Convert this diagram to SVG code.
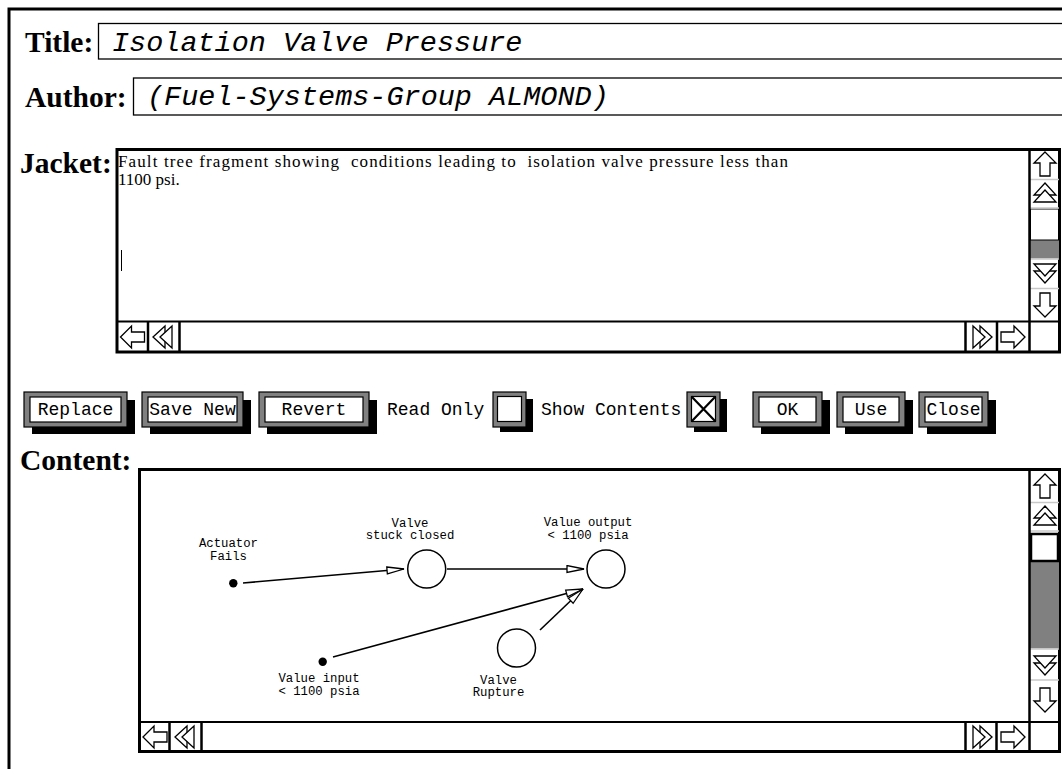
<svg xmlns="http://www.w3.org/2000/svg" width="1062" height="769" viewBox="0 0 1062 769">
<style>
.lbl{font-family:"Liberation Serif","Times New Roman",serif;font-weight:bold;font-size:29.5px;fill:#000}
.fld{font-family:"Liberation Mono","Courier New",monospace;font-style:italic;font-size:28.5px;fill:#000}
.jk{font-family:"Liberation Serif","Times New Roman",serif;font-size:17px;fill:#000}
.btn{font-family:"Liberation Mono","Courier New",monospace;font-size:18px;fill:#000}
.nl{font-family:"Liberation Mono","Courier New",monospace;font-size:12.3px;fill:#000;text-anchor:middle}
.ol{fill:#808080;stroke:#000;stroke-width:1.2}
.in{fill:#fff;stroke:#000;stroke-width:1.2}
.sh{fill:#000}
.ar{fill:#fff;stroke:#000;stroke-width:1.3;stroke-linejoin:miter}
.sep{stroke:#000;stroke-width:2.5}
.lsep{stroke:#c8c8c8;stroke-width:1.5}
.edge{stroke:#000;stroke-width:1.6;fill:none}
.node{fill:#fff;stroke:#000;stroke-width:1.5}
</style>
<defs>
<polygon id="aU" class="ar" points="0,-12 11,-1 5,-1 5,12 -5,12 -5,-1 -11,-1"/>
<g id="dU">
<polygon class="ar" points="0,-11 11,1 -11,1"/>
<polygon class="ar" points="0,-4 11,8 -11,8"/>
</g>
<marker id="ah" markerUnits="userSpaceOnUse" markerWidth="20" markerHeight="10" refX="18" refY="4.5" orient="auto">
<path d="M1,1 L18,4.5 L1,8 Z" fill="#fff" stroke="#000" stroke-width="1.3"/>
</marker>
</defs>
<rect x="0" y="0" width="1062" height="769" fill="#fff"/>
<rect x="9" y="9" width="1100" height="800" fill="#fff" stroke="#000" stroke-width="3"/>

<g id="title">
<text class="lbl" x="25" y="52">Title:</text>
<rect x="98.5" y="23.5" width="1000" height="35.5" fill="#fff" stroke="#000" stroke-width="1.3"/>
<text class="fld" x="112" y="51">Isolation Valve Pressure</text>
</g>
<g id="author">
<text class="lbl" x="25" y="107">Author:</text>
<rect x="133.5" y="78" width="1000" height="37" fill="#fff" stroke="#000" stroke-width="1.3"/>
<text class="fld" x="147" y="105">(Fuel-Systems-Group ALMOND)</text>
</g>

<g id="jacket">
<text class="lbl" x="20" y="173">Jacket:</text>
<rect x="117" y="149.5" width="942.5" height="202.5" fill="#fff" stroke="#000" stroke-width="3"/>
<text class="jk" x="118" y="167" xml:space="preserve" textLength="670" lengthAdjust="spacing">Fault tree fragment showing  conditions leading to  isolation valve pressure less than</text>
<text class="jk" x="118" y="185">1100 psi.</text>
<line x1="121.5" y1="250" x2="121.5" y2="271" stroke="#000" stroke-width="1"/>
<rect x="1030" y="240" width="29" height="18.5" fill="#808080"/>
<rect x="1030.5" y="209" width="28" height="31" fill="#fff" stroke="#000" stroke-width="1"/>
<line class="lsep" x1="1030" y1="179.5" x2="1059" y2="179.5"/>
<line class="lsep" x1="1030" y1="208" x2="1059" y2="208"/>
<line class="lsep" x1="1030" y1="259" x2="1059" y2="259"/>
<line class="lsep" x1="1030" y1="288.5" x2="1059" y2="288.5"/>
<use href="#aU" transform="translate(1045,164)"/>
<use href="#dU" transform="translate(1045,194)"/>
<use href="#dU" transform="translate(1045,272) rotate(180)"/>
<use href="#aU" transform="translate(1045,305) rotate(180)"/>
<line class="sep" x1="1029.5" y1="149" x2="1029.5" y2="352"/>
<line x1="117" y1="321.5" x2="1059" y2="321.5" stroke="#000" stroke-width="2"/>
<line class="sep" x1="148" y1="322" x2="148" y2="352"/>
<line class="sep" x1="179.5" y1="322" x2="179.5" y2="352"/>
<line class="sep" x1="965.5" y1="322" x2="965.5" y2="352"/>
<line class="sep" x1="997" y1="322" x2="997" y2="352"/>
<use href="#aU" transform="translate(132.5,337) rotate(-90)"/>
<use href="#dU" transform="translate(164,337) rotate(-90)"/>
<use href="#dU" transform="translate(981,337) rotate(90)"/>
<use href="#aU" transform="translate(1013,337) rotate(90)"/>
</g>

<g id="btn-replace">
<rect class="sh" x="32" y="400" width="103" height="34"/>
<rect class="ol" x="24" y="392" width="103" height="35"/>
<rect class="in" x="30" y="397" width="91" height="25"/>
<text class="btn" x="75.5" y="415" text-anchor="middle">Replace</text>
</g>
<g id="btn-savenew">
<rect class="sh" x="150" y="400" width="101" height="34"/>
<rect class="ol" x="142" y="392" width="101" height="35"/>
<rect class="in" x="148" y="397" width="89" height="25"/>
<text class="btn" x="192.5" y="415" text-anchor="middle">Save New</text>
</g>
<g id="btn-revert">
<rect class="sh" x="267" y="400" width="110" height="34"/>
<rect class="ol" x="259" y="392" width="110" height="35"/>
<rect class="in" x="265" y="397" width="98" height="25"/>
<text class="btn" x="314" y="415" text-anchor="middle">Revert</text>
</g>
<g id="readonly">
<text class="btn" x="387" y="415">Read Only</text>
<rect class="sh" x="500" y="399" width="33" height="33"/>
<rect class="ol" x="493" y="392" width="33" height="35"/>
<rect class="in" x="497.5" y="396.5" width="24" height="25"/>
</g>
<g id="showcontents">
<text class="btn" x="541" y="415">Show Contents</text>
<rect class="sh" x="694" y="399" width="33" height="33"/>
<rect class="ol" x="687" y="392" width="33" height="35"/>
<rect class="in" x="691.5" y="396.5" width="24" height="25"/>
<path d="M691.5,396.5 L715.5,421.5 M715.5,396.5 L691.5,421.5" stroke="#000" stroke-width="2.2"/>
</g>
<g id="btn-ok">
<rect class="sh" x="761" y="400" width="69" height="34"/>
<rect class="ol" x="753" y="392" width="69" height="35"/>
<rect class="in" x="759" y="397" width="57" height="25"/>
<text class="btn" x="787.5" y="415" text-anchor="middle">OK</text>
</g>
<g id="btn-use">
<rect class="sh" x="845" y="400" width="68" height="34"/>
<rect class="ol" x="837" y="392" width="68" height="35"/>
<rect class="in" x="843" y="397" width="56" height="25"/>
<text class="btn" x="871" y="415" text-anchor="middle">Use</text>
</g>
<g id="btn-close">
<rect class="sh" x="927" y="400" width="69" height="34"/>
<rect class="ol" x="919" y="392" width="69" height="35"/>
<rect class="in" x="925" y="397" width="57" height="25"/>
<text class="btn" x="953.5" y="415" text-anchor="middle">Close</text>
</g>

<g id="content">
<text class="lbl" x="20" y="470">Content:</text>
<rect x="139.5" y="469.5" width="920" height="282" fill="#fff" stroke="#000" stroke-width="3"/>
<rect x="1030" y="561" width="29" height="87.5" fill="#808080"/>
<rect x="1031" y="534" width="27" height="27" fill="#fff" stroke="#000" stroke-width="2.5"/>
<line class="lsep" x1="1030" y1="502.5" x2="1059" y2="502.5"/>
<line class="lsep" x1="1030" y1="531" x2="1059" y2="531"/>
<line class="lsep" x1="1030" y1="649" x2="1059" y2="649"/>
<line class="lsep" x1="1030" y1="680" x2="1059" y2="680"/>
<use href="#aU" transform="translate(1045,486)"/>
<use href="#dU" transform="translate(1045,517)"/>
<use href="#dU" transform="translate(1045,664) rotate(180)"/>
<use href="#aU" transform="translate(1045,700) rotate(180)"/>
<line class="sep" x1="1029.5" y1="469" x2="1029.5" y2="752"/>
<line x1="139" y1="722" x2="1059" y2="722" stroke="#000" stroke-width="2"/>
<line class="sep" x1="169.5" y1="722" x2="169.5" y2="751"/>
<line class="sep" x1="201.5" y1="722" x2="201.5" y2="751"/>
<line class="sep" x1="965.5" y1="722" x2="965.5" y2="751"/>
<line class="sep" x1="996.5" y1="722" x2="996.5" y2="751"/>
<use href="#aU" transform="translate(155,737) rotate(-90)"/>
<use href="#dU" transform="translate(186,737) rotate(-90)"/>
<use href="#dU" transform="translate(981,737) rotate(90)"/>
<use href="#aU" transform="translate(1013,737) rotate(90)"/>
</g>

<g id="connectors">
<line class="edge" x1="243" y1="583" x2="404" y2="569" marker-end="url(#ah)"/>
<line class="edge" x1="447" y1="569" x2="584" y2="569" marker-end="url(#ah)"/>
<line class="edge" x1="333" y1="657" x2="583" y2="589" marker-end="url(#ah)"/>
<line class="edge" x1="540" y1="630" x2="583" y2="589" marker-end="url(#ah)"/>
</g>

<g id="n-actuator">
<circle cx="233.3" cy="583.3" r="4.2" fill="#000"/>
<text class="nl" x="228.5" y="547">Actuator</text>
<text class="nl" x="228.5" y="559.5">Fails</text>
</g>
<g id="n-stuck">
<circle class="node" cx="426.7" cy="569" r="19"/>
<text class="nl" x="410" y="526.5">Valve</text>
<text class="nl" x="410" y="539">stuck closed</text>
</g>
<g id="n-output">
<circle class="node" cx="606" cy="569" r="19"/>
<text class="nl" x="588" y="526">Value output</text>
<text class="nl" x="588" y="539">&lt; 1100 psia</text>
</g>
<g id="n-input">
<circle cx="322.7" cy="661.7" r="4.2" fill="#000"/>
<text class="nl" x="319" y="682">Value input</text>
<text class="nl" x="319" y="695">&lt; 1100 psia</text>
</g>
<g id="n-rupture">
<circle class="node" cx="516.5" cy="648" r="19"/>
<text class="nl" x="498.5" y="683.5">Valve</text>
<text class="nl" x="498.5" y="696">Rupture</text>
</g>
</svg>
